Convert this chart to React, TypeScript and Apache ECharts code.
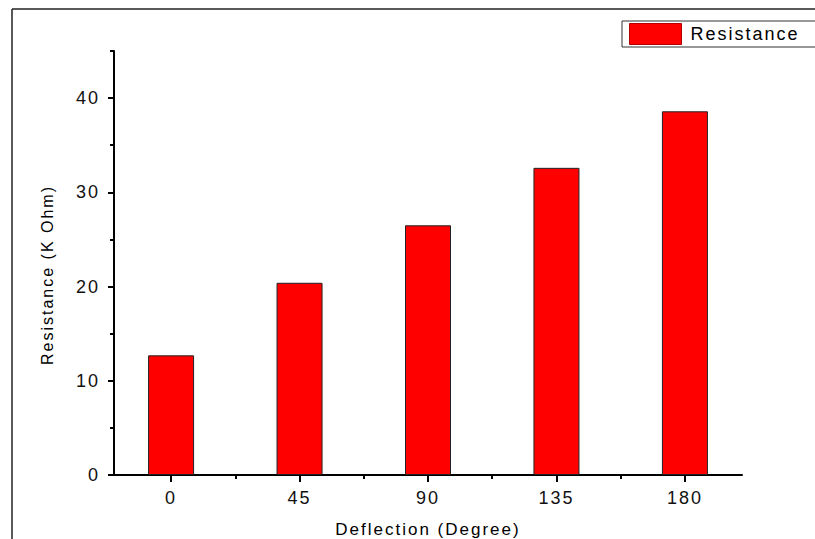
import React, { useEffect, useRef } from 'react';
import * as echarts from 'echarts';

const deflection = [0, 45, 90, 135, 180];
const resistance = [12.7, 20.4, 26.5, 32.6, 38.6];
const xTickValues = [0, 45, 90, 135, 180];
const xMinorTickValues = [22.5, 67.5, 112.5, 157.5];
const yTickValues = [0, 10, 20, 30, 40];
const yMinorTickValues = [5, 15, 25, 35, 45];
const seriesName = 'Resistance';
const xTitle = 'Deflection (Degree)';
const yTitle = 'Resistance (K Ohm)';

const FONT = "'Liberation Sans', Arial, sans-serif";
const gridRect = { left: 114, right: 73, top: 51, bottom: 64, outerBoundsMode: 'none', containLabel: false };

export default function App() {
  const ref = useRef<HTMLDivElement>(null);
  useEffect(() => {
    if (!ref.current) return;
    const chart = echarts.init(ref.current, null, { renderer: 'svg' });
    const axisColor = '#000';
    chart.setOption({
      animation: false,
      backgroundColor: '#fff',
      grid: [{ ...gridRect }, { ...gridRect }],
      legend: {
        left: 622,
        top: 21,
        backgroundColor: '#fff',
        borderColor: '#333',
        borderWidth: 1,
        borderRadius: 0,
        padding: [2, 38, 2, 7],
        itemWidth: 52,
        itemHeight: 21,
        icon: 'rect',
        textStyle: { fontSize: 18, color: '#000', fontFamily: FONT, padding: [0, 0, 0, 4] },
        data: [
          {
            name: seriesName,
            itemStyle: { color: '#ff0000', borderColor: '#b30000', borderWidth: 1 },
          },
        ],
      },
      xAxis: [
        {
          type: 'value',
          gridIndex: 0,
          min: -20,
          max: 200,
          name: xTitle,
          nameLocation: 'middle',
          nameGap: 46,
          nameTextStyle: { fontSize: 17, color: '#000', fontFamily: FONT },
          axisLine: { show: true, onZero: false, lineStyle: { color: axisColor, width: 2 } },
          axisTick: {
            show: true,
            inside: false,
            length: 7,
            customValues: xTickValues,
            lineStyle: { color: axisColor, width: 2 },
          },
          axisLabel: {
            show: true,
            customValues: xTickValues,
            margin: 14,
            fontSize: 18,
            color: '#111',
            fontFamily: FONT,
          },
          splitLine: { show: false },
        },
        {
          type: 'value',
          gridIndex: 1,
          min: -20,
          max: 200,
          axisLine: { show: false, onZero: false },
          axisTick: {
            show: true,
            inside: false,
            length: 4,
            customValues: xMinorTickValues,
            lineStyle: { color: axisColor, width: 2 },
          },
          axisLabel: { show: false },
          splitLine: { show: false },
        },
      ],
      yAxis: [
        {
          type: 'value',
          gridIndex: 0,
          min: 0,
          max: 45,
          name: yTitle,
          nameLocation: 'middle',
          nameGap: 59,
          nameTextStyle: { fontSize: 16, color: '#000', fontFamily: FONT, padding: [0, 24, 0, 0] },
          axisLine: { show: true, onZero: false, lineStyle: { color: axisColor, width: 2 } },
          axisTick: {
            show: true,
            inside: false,
            length: 6,
            customValues: yTickValues,
            lineStyle: { color: axisColor, width: 2 },
          },
          axisLabel: {
            show: true,
            customValues: yTickValues,
            margin: 14,
            fontSize: 18,
            color: '#111',
            fontFamily: FONT,
          },
          splitLine: { show: false },
        },
        {
          type: 'value',
          gridIndex: 1,
          min: 0,
          max: 45,
          axisLine: { show: false, onZero: false },
          axisTick: {
            show: true,
            inside: false,
            length: 4,
            customValues: yMinorTickValues,
            lineStyle: { color: axisColor, width: 2 },
          },
          axisLabel: { show: false },
          splitLine: { show: false },
        },
      ],
      series: [
        {
          name: seriesName,
          type: 'bar',
          xAxisIndex: 0,
          yAxisIndex: 0,
          barWidth: 46,
          data: deflection.map((d, i) => [d, resistance[i]]),
          itemStyle: { color: '#ff0000', borderColor: '#222', borderWidth: 1 },
        },
      ],
      graphic: [
        {
          type: 'line',
          shape: { x1: 12, y1: 9, x2: 12, y2: 539 },
          style: { stroke: '#222', lineWidth: 1.5 },
          silent: true,
        },
        {
          type: 'line',
          shape: { x1: 12, y1: 9, x2: 815, y2: 9 },
          style: { stroke: '#222', lineWidth: 1.5 },
          silent: true,
        },
      ],
    });
    return () => chart.dispose();
  }, []);
  return (
    <div
      ref={ref}
      style={{
        position: 'fixed',
        left: 0,
        top: 0,
        width: 815,
        height: 539,
        background: '#fff',
        letterSpacing: '2px',
      }}
    />
  );
}
